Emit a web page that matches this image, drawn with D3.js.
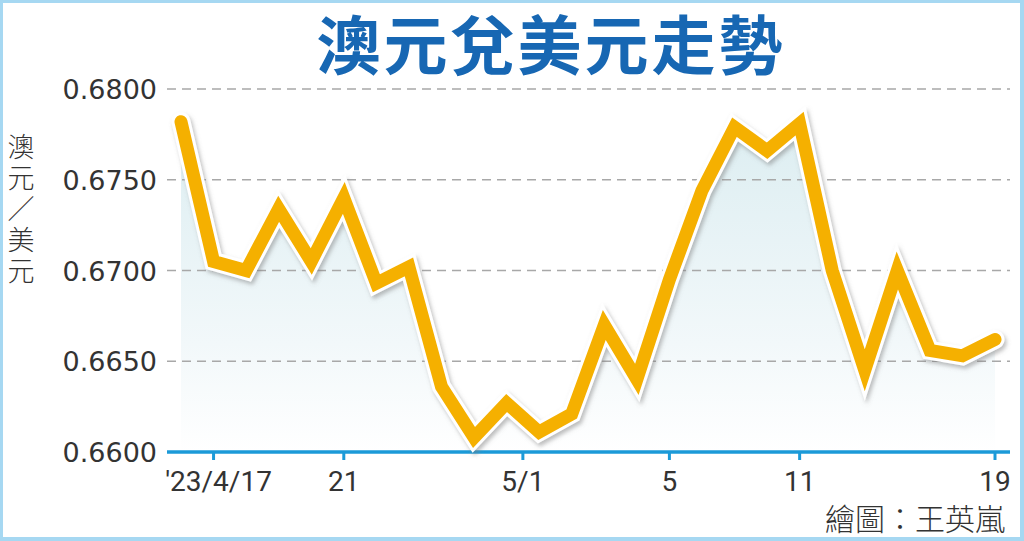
<!DOCTYPE html>
<html><head><meta charset="utf-8">
<script src="https://cdn.jsdelivr.net/npm/d3@7"></script>
<style>
html,body{margin:0;padding:0;background:#fff;}
svg{display:block;}
</style></head>
<body>
<svg id="c" width="1024" height="541"></svg>
<script>
const dates = ["4/14","4/17","4/18","4/19","4/20","4/21","4/24","4/25","4/26","4/27","4/28",
               "5/1","5/2","5/3","5/4","5/5","5/8","5/9","5/10","5/11","5/12","5/15","5/16","5/17","5/18","5/19"];
const rates = [0.6782,0.6705,0.6700,0.6734,0.6705,0.6740,0.6693,0.6702,0.6636,0.6608,0.6627,
               0.6611,0.6621,0.6670,0.6640,0.6695,0.6744,0.6779,0.6766,0.6781,0.6700,0.6645,0.6700,0.6656,0.6653,0.6662];
const yTicks = [0.6600,0.6650,0.6700,0.6750,0.6800];
const xTickPos = [1,5,10.5,15,19,25];
const xTickLabels = ["'23/4/17","21","5/1","5","11","19"];
const title = "澳元兌美元走勢";
const yTitle = ["澳","元","／","美","元"];
const credit = "繪圖：王英嵐";

const svg = d3.select("#c");
const W = 1024, H = 541;
const x = d3.scaleLinear().domain([0, dates.length-1]).range([181, 995]);
const y = d3.scaleLinear().domain([0.66, 0.68]).range([452, 89]);
const axL = 167, axR = 1010;

const defs = svg.append("defs");
const grad = defs.append("linearGradient").attr("id","fillg")
  .attr("gradientUnits","userSpaceOnUse").attr("x1",0).attr("x2",0)
  .attr("y1", y(0.68)).attr("y2", y(0.66));
grad.append("stop").attr("offset",0).attr("stop-color","#d9ecf0");
grad.append("stop").attr("offset",0.7).attr("stop-color","#f2f8fa");
grad.append("stop").attr("offset",1).attr("stop-color","#ffffff");
const f = defs.append("filter").attr("id","sh").attr("x","-10%").attr("y","-10%").attr("width","120%").attr("height","130%");
f.append("feDropShadow").attr("dx",2).attr("dy",3).attr("stdDeviation",2)
  .attr("flood-color","#7a7a7a").attr("flood-opacity",0.5);

// frame
svg.append("rect").attr("x",1.5).attr("y",1.5).attr("width",W-3).attr("height",H-3)
  .attr("fill","none").attr("stroke","#a6d8f2").attr("stroke-width",3);
svg.append("rect").attr("x",1020).attr("y",0).attr("width",4).attr("height",H).attr("fill","#a6d8f2");
svg.append("rect").attr("x",0).attr("y",537).attr("width",W).attr("height",4).attr("fill","#a6d8f2");

// title
svg.append("text").attr("x",551).attr("y",69).attr("text-anchor","middle")
  .attr("font-family","'Noto Sans CJK TC','Noto Sans CJK SC',sans-serif").attr("font-weight",700)
  .attr("font-size",64).attr("letter-spacing",3).attr("fill","#1767b3").text(title);

// area
const area = d3.area().x((d,i)=>x(i)).y0(y(0.66)).y1(d=>y(d));
svg.append("path").datum(rates).attr("d",area).attr("fill","url(#fillg)");

// gridlines
svg.append("g").selectAll("line").data(yTicks.slice(1)).join("line")
  .attr("x1",axL).attr("x2",axR).attr("y1",d=>y(d)).attr("y2",d=>y(d))
  .attr("stroke","#a8a8a8").attr("stroke-width",1.5).attr("stroke-dasharray","9,6");

// y labels
svg.append("g").selectAll("text").data(yTicks).join("text")
  .attr("x",157).attr("y",d=>y(d)+10).attr("text-anchor","end")
  .attr("font-family","'DejaVu Sans',sans-serif").attr("font-size",27).attr("fill","#333")
  .text(d=>d3.format(".4f")(d));

// y title (single text, stacked characters)
const yt = svg.append("text").attr("x",21).attr("y",157).attr("text-anchor","middle")
  .attr("font-family","'Noto Sans CJK TC',sans-serif").attr("font-weight",300)
  .attr("font-size",27).attr("fill","#333");
yt.selectAll("tspan").data(yTitle).join("tspan")
  .attr("x",21).attr("dy",(d,i)=>i===0?0:31).text(d=>d);

// x axis
svg.append("line").attr("x1",axL).attr("x2",axR).attr("y1",y(0.66)).attr("y2",y(0.66))
  .attr("stroke","#1b9ad8").attr("stroke-width",3.5);
svg.append("g").selectAll("line").data(xTickPos).join("line")
  .attr("x1",d=>x(d)).attr("x2",d=>x(d)).attr("y1",y(0.66)).attr("y2",y(0.66)+8)
  .attr("stroke","#1b9ad8").attr("stroke-width",3);
svg.append("g").selectAll("text").data(xTickPos).join("text")
  .attr("x",(d,i)=>x(d)+(i===0?5:0)).attr("y",491).attr("text-anchor","middle")
  .attr("font-family","Roboto,sans-serif").attr("font-size",28).attr("fill","#333")
  .text((d,i)=>xTickLabels[i]);

// line
const line = d3.line().x((d,i)=>x(i)).y(d=>y(d));
const lg = svg.append("g").attr("filter","url(#sh)");
lg.append("path").datum(rates).attr("d",line).attr("fill","none")
  .attr("stroke","#ffffff").attr("stroke-width",19).attr("stroke-linejoin","miter")
  .attr("stroke-miterlimit",4).attr("stroke-linecap","round");
lg.append("path").datum(rates).attr("d",line).attr("fill","none")
  .attr("stroke","#f5b002").attr("stroke-width",13).attr("stroke-linejoin","miter")
  .attr("stroke-miterlimit",4).attr("stroke-linecap","round");

// credit
svg.append("text").attr("x",1005).attr("y",530).attr("text-anchor","end")
  .attr("font-family","'Noto Sans CJK TC',sans-serif").attr("font-weight",300)
  .attr("font-size",30).attr("fill","#333").text(credit);
</script>
</body></html>
